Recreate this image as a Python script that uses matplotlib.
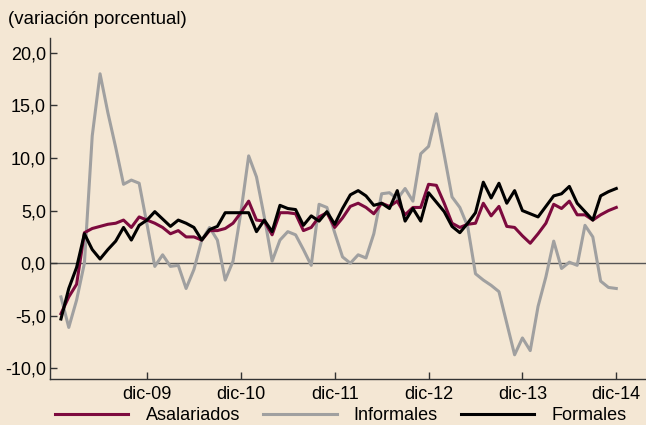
from matplotlib import pyplot as plt
import numpy as np

# monthly values, jan-09 .. dic-14
asalariados = [-4.8, -3.2, -2.0, 2.9, 3.3, 3.5, 3.7, 3.8, 4.1, 3.4, 4.4, 4.1,
               3.8, 3.4, 2.8, 3.1, 2.5, 2.5, 2.2, 3.1, 3.1, 3.3, 3.8, 4.8,
               5.9, 4.1, 4.0, 2.7, 4.8, 4.8, 4.7, 3.1, 3.4, 4.4, 4.8, 3.4,
               4.3, 5.4, 5.7, 5.3, 4.7, 5.7, 5.4, 5.9, 4.6, 5.3, 5.3, 7.5,
               7.4, 5.7, 3.8, 3.4, 3.7, 3.8, 5.7, 4.5, 5.4, 3.5, 3.4, 2.6,
               1.9, 2.8, 3.8, 5.6, 5.2, 5.9, 4.6, 4.6, 4.1, 4.6, 5.0, 5.3]
informales = [-3.2, -6.1, -3.5, 0.0, 12.1, 18.0, 14.3, 11.0, 7.5, 7.9, 7.6, 3.7,
              -0.3, 0.8, -0.3, -0.2, -2.4, -0.6, 2.2, 3.4, 2.2, -1.6, 0.2, 4.8,
              10.2, 8.2, 4.4, 0.2, 2.2, 3.0, 2.7, 1.3, -0.2, 5.6, 5.3, 2.9,
              0.6, 0.0, 0.8, 0.5, 2.8, 6.6, 6.7, 6.1, 7.1, 5.9, 10.4, 11.1,
              14.2, 10.3, 6.3, 5.3, 3.5, -1.0, -1.6, -2.1, -2.7, -5.7, -8.7, -7.1,
              -8.3, -4.1, -1.3, 2.1, -0.5, 0.1, -0.2, 3.6, 2.5, -1.7, -2.3, -2.4]
formales = [-5.3, -2.4, -0.4, 2.8, 1.3, 0.4, 1.3, 2.1, 3.4, 2.2, 3.6, 4.1,
            4.9, 4.2, 3.5, 4.1, 3.8, 3.4, 2.2, 3.2, 3.5, 4.8, 4.8, 4.8,
            4.8, 3.0, 4.1, 3.0, 5.5, 5.2, 5.1, 3.6, 4.5, 4.0, 4.9, 3.7,
            5.2, 6.5, 6.9, 6.4, 5.5, 5.7, 5.2, 6.9, 4.0, 5.2, 4.0, 6.7,
            5.8, 4.9, 3.5, 2.9, 3.8, 4.8, 7.7, 6.2, 7.6, 5.7, 6.9, 5.0,
            4.7, 4.4, 5.4, 6.4, 6.6, 7.3, 5.7, 4.9, 4.1, 6.4, 6.8, 7.1]
tick_labels = ['dic-09', 'dic-10', 'dic-11', 'dic-12', 'dic-13', 'dic-14']
y_ticks = [-10, -5, 0, 5, 10, 15, 20]

bg = '#f4e7d4'
plt.rcParams['font.family'] = ['Liberation Sans', 'DejaVu Sans']

months = np.arange(len(asalariados))
fig = plt.figure(figsize=(6.46, 4.25), dpi=100, facecolor=bg)
ax = fig.add_axes([50 / 646, 46 / 425, 596 / 646, 341 / 425])
ax.set_facecolor(bg)

ax.axhline(0, color='#555555', lw=1.0, zorder=1)
l1, = ax.plot(months, asalariados, color='#7d0a3e', lw=2.2, label='Asalariados', zorder=3)
l2, = ax.plot(months, informales, color='#a0a0a0', lw=2.2, label='Informales', zorder=2)
l3, = ax.plot(months, formales, color='black', lw=2.2, label='Formales', zorder=4)

ax.set_xlim(-1.4, 74.8)
ax.set_ylim(-11, 21.4)
ax.set_yticks(y_ticks)
ax.set_yticklabels(['{:.1f}'.format(v).replace('.', ',') for v in y_ticks])
ax.set_xticks(months[11::12])
ax.set_xticklabels(tick_labels)
ax.tick_params(axis='both', direction='in', length=5, width=1, labelsize=13,
               color='#333333')
ax.tick_params(axis='y', pad=3)
ax.tick_params(axis='x', pad=5)
for side in ['top', 'right']:
    ax.spines[side].set_visible(False)
for side in ['left', 'bottom']:
    ax.spines[side].set_color('#333333')
    ax.spines[side].set_linewidth(1.0)

fig.text(8 / 646, 1 - 19 / 425, '(variación porcentual)', fontsize=13.4,
         va='center', ha='left')
fig.legend(handles=[l1, l2, l3], loc='center', ncol=3, frameon=False,
           bbox_to_anchor=(341 / 646, 1 - 416 / 425), fontsize=13,
           handlelength=4.05, handletextpad=0.95, columnspacing=1.3,
           borderpad=0, borderaxespad=0)

fig.savefig('out.png', dpi=100, facecolor=bg)
plt.close()
